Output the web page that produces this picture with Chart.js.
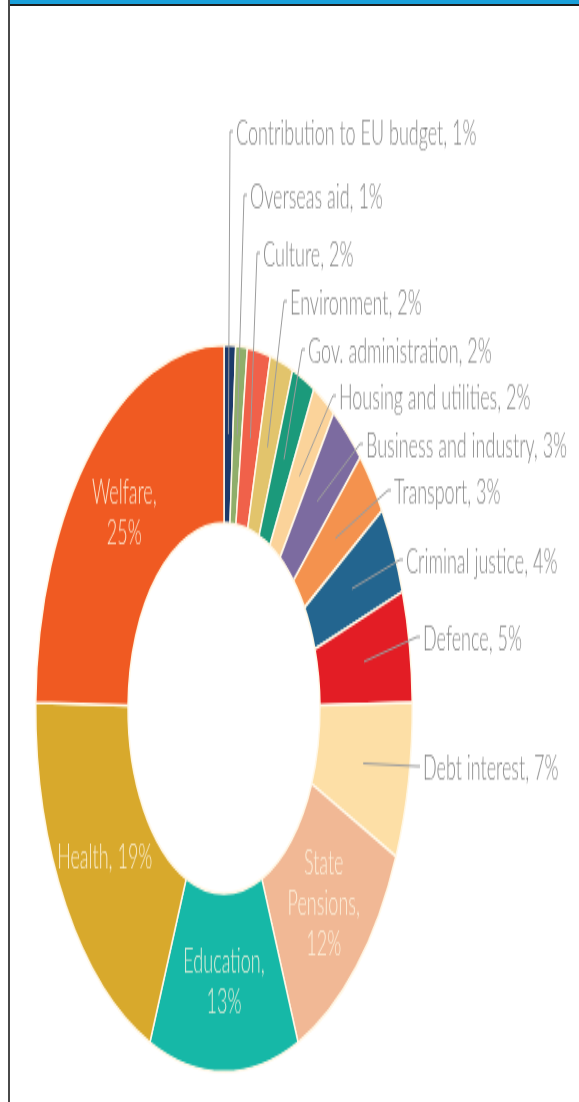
<!DOCTYPE html>
<html>
<head>
<meta charset="utf-8">
<script src="https://cdn.jsdelivr.net/npm/chart.js@4/dist/chart.umd.min.js"></script>
<style>
    html, body { margin: 0; padding: 0; background: #fff; width: 579px; height: 1102px; overflow: hidden; }
    .frame { position: absolute; left: 8px; top: 0; right: 0; bottom: 0; border-left: 2px solid #4a4a4a; }
    .bar { height: 4px; background: #1aa0da; border-bottom: 2px solid #1e1e1e; }
    #spendChart { position: absolute; left: 0; top: 0; }
</style>
</head>
<body>
<div class="frame"><div class="bar"></div></div>
<!-- drawn at 579x571 and stretched to the full window height, like the reference -->
<canvas id="spendChart" width="579" height="571" style="width:579px;height:1102px"></canvas>
<script>
// public spending shares, clockwise from 12 o'clock
const categories = ['Contribution to EU budget', 'Overseas aid', 'Culture', 'Environment',
    'Gov. administration', 'Housing and utilities', 'Business and industry', 'Transport',
    'Criminal justice', 'Defence', 'Debt interest', 'State Pensions', 'Education', 'Health', 'Welfare'];
const shares = [1, 1, 2, 2, 2, 2, 3, 3, 4, 5, 7, 12, 13, 19, 25];
const sliceColors = ['#1c3a6b', '#8fae6a', '#f0614a', '#e2c46c', '#1b9a7b', '#fbd39a', '#7c6ba0', '#f4924e',
    '#23658f', '#e31d25', '#fddfa6', '#f1b895', '#16b8a7', '#d8a92c', '#f05a22'];

// labels drawn inside the ring (split into lines), the rest get a callout
const insideLines = {
    'State Pensions': ['State', 'Pensions,', '12%'],
    'Education': ['Education,', '13%'],
    'Health': ['Health, 19%'],
    'Welfare': ['Welfare,', '25%']
};
// callout elbow, offset from the ring centre (unstretched canvas px)
const calloutOffsets = [[6, -299], [20, -266], [33, -236], [60, -211], [78, -186], [109, -162],
    [136, -137], [164, -113], [176, -77], [193, -37], [193, 30]];

const labelFont = '300 18px Lato, "Open Sans", sans-serif';

const calloutPlugin = {
    id: 'callouts',
    afterDatasetsDraw(chart) {
        const ctx = chart.ctx;
        const arcs = chart.getDatasetMeta(0).data;
        let k = 0;
        ctx.save();
        ctx.font = labelFont;
        categories.forEach(function(name, i) {
            const arc = arcs[i];
            const p = arc.tooltipPosition();
            if (insideLines[name]) {
                const lines = insideLines[name];
                const lh = 21;
                ctx.fillStyle = 'rgba(255, 246, 226, 0.9)';
                ctx.textAlign = 'center';
                ctx.textBaseline = 'middle';
                lines.forEach(function(t, j) {
                    ctx.fillText(t, p.x, p.y + (j - (lines.length - 1) / 2) * lh);
                });
                return;
            }
            const off = calloutOffsets[k++];
            const ex = arc.x + off[0];
            const ey = arc.y + off[1];
            ctx.strokeStyle = '#9d9d9d';
            ctx.lineWidth = 1;
            ctx.beginPath();
            ctx.moveTo(p.x, p.y);
            ctx.lineTo(ex, ey);
            ctx.lineTo(ex + 3, ey);
            ctx.stroke();
            ctx.fillStyle = '#8a8a8a';
            ctx.textAlign = 'left';
            ctx.textBaseline = 'middle';
            ctx.fillText(name + ', ' + shares[i] + '%', ex + 6, ey + 1);
        });
        ctx.restore();
    }
};

document.addEventListener('DOMContentLoaded', function() {
    createSpendingChart();
});

function createSpendingChart() {
    const ctx = document.getElementById('spendChart').getContext('2d');
    new Chart(ctx, {
        type: 'doughnut',
        data: {
            labels: categories,
            datasets: [{
                data: shares,
                backgroundColor: sliceColors,
                borderColor: '#fff7e6',
                borderWidth: 1.5,
                hoverOffset: 0
            }]
        },
        options: {
            responsive: false,
            animation: false,
            cutout: '51%',
            layout: { padding: { left: 35, right: 166, top: 178, bottom: 15 } },
            plugins: {
                legend: { display: false },
                tooltip: { enabled: false }
            }
        },
        plugins: [calloutPlugin]
    });
}
</script>
</body>
</html>
